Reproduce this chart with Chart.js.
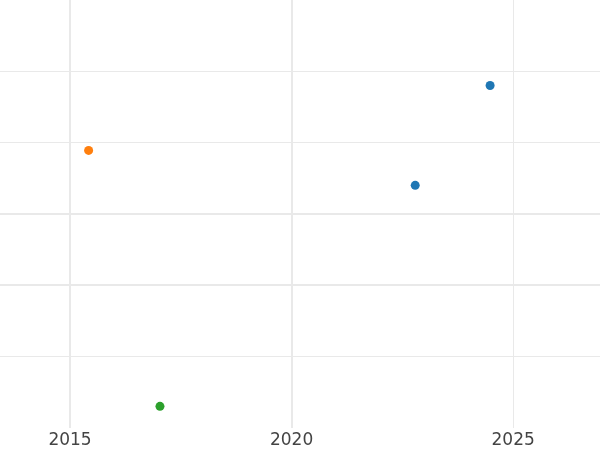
<!DOCTYPE html>
<html>
<head>
<meta charset="utf-8">
<script src="https://cdn.jsdelivr.net/npm/chart.js@4"></script>
<style>
html,body{margin:0;padding:0;background:#fff;}
#wrap{width:600px;height:450px;position:relative;}
</style>
</head>
<body>
<div id="wrap"><canvas id="c"></canvas></div>
<script>
// Data
const xTicks = [2015, 2020, 2025];
const blueX = [2022.79, 2024.48];
const blueY = [3.40, 4.80];
const orangeX = [2015.42];
const orangeY = [3.89];
const greenX = [2017.03];
const greenY = [0.30];
const xRange = [2013.42, 2026.96];
const yRange = [0, 6];

const toPts = (xs, ys) => xs.map((x, i) => ({x: x, y: ys[i]}));

new Chart(document.getElementById('c'), {
  type: 'scatter',
  data: {
    datasets: [
      {data: toPts(blueX, blueY), backgroundColor: '#1f77b4', borderWidth: 0, pointRadius: 4.5},
      {data: toPts(orangeX, orangeY), backgroundColor: '#ff7f0e', borderWidth: 0, pointRadius: 4.5},
      {data: toPts(greenX, greenY), backgroundColor: '#2ca02c', borderWidth: 0, pointRadius: 4.5}
    ]
  },
  options: {
    responsive: true,
    maintainAspectRatio: false,
    animation: false,
    layout: {padding: {top: 0, left: 0, right: 0, bottom: -3}, autoPadding: false},
    plugins: {legend: {display: false}, tooltip: {enabled: false}},
    scales: {
      x: {
        type: 'linear',
        min: xRange[0], max: xRange[1],
        afterBuildTicks: (s) => { s.ticks = xTicks.map(v => ({value: v})); },
        border: {display: false},
        grid: {
          color: '#e9e9e9',
          drawTicks: false,
          lineWidth: (ctx) => (ctx.tick && ctx.tick.value === 2025) ? 1 : 2
        },
        ticks: {
          padding: 5,
          color: '#444',
          font: {family: 'DejaVu Sans', size: 17, lineHeight: 0.9},
          callback: (v) => String(v)
        }
      },
      y: {
        type: 'linear',
        min: yRange[0], max: yRange[1],
        ticks: {display: false, stepSize: 1},
        border: {display: false},
        grid: {
          drawTicks: false,
          color: (ctx) => (ctx.tick && (ctx.tick.value === 0 || ctx.tick.value === 6)) ? 'rgba(0,0,0,0)' : '#e9e9e9',
          lineWidth: (ctx) => (ctx.tick && (ctx.tick.value === 2 || ctx.tick.value === 3)) ? 2 : 1
        }
      }
    }
  }
});
</script>
</body>
</html>
